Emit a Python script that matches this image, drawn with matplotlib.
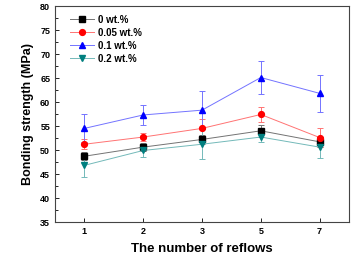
import matplotlib
matplotlib.use("Agg")
import matplotlib.pyplot as plt
from matplotlib.ticker import MultipleLocator
from matplotlib.lines import Line2D
from matplotlib.colors import to_rgb

plt.rcParams['font.family'] = ['Liberation Sans', 'DejaVu Sans']
plt.rcParams['font.weight'] = 'bold'

categories = ["1", "2", "3", "5", "7"]
labels = ["0 wt.%", "0.05 wt.%", "0.1 wt.%", "0.2 wt.%"]
s0 = [48.7, 50.6, 52.2, 54.0, 51.7]
e0 = [0.8, 0.8, 1.0, 1.3, 1.0]
s005 = [51.2, 52.7, 54.5, 57.4, 52.6]
e005 = [1.0, 0.9, 2.0, 1.5, 2.0]
s01 = [54.5, 57.3, 58.3, 65.1, 61.8]
e01 = [2.9, 2.0, 4.0, 3.5, 3.8]
s02 = [46.8, 49.9, 51.2, 52.7, 50.6]
e02 = [2.4, 1.4, 3.1, 1.1, 2.2]

series = [s0, s005, s01, s02]
errs = [e0, e005, e01, e02]
colors = ["#000000", "#ff0000", "#0000ff", "#007f7f"]
markers = ["s", "o", "^", "v"]


def light(c, f=0.45):
    r, g, b = to_rgb(c)
    return (r + (1 - r) * f, g + (1 - g) * f, b + (1 - b) * f)


fig = plt.figure(figsize=(3.53, 2.56), dpi=100)
ax = fig.add_axes([55/353, 34/256, 294/353, 216/256])
x = list(range(len(categories)))
handles = []
for s, e, c, m, l in zip(series, errs, colors, markers, labels):
    lc = light(c)
    ax.errorbar(x, s, yerr=e, color=lc, marker=m, markersize=4.2,
                markerfacecolor=c, markeredgecolor=c, lw=0.7,
                elinewidth=0.7, capsize=2.5, capthick=0.7)
    handles.append(Line2D([], [], color=lc, lw=0.7, marker=m, markersize=4.2,
                          markerfacecolor=c, markeredgecolor=c, label=l))
ax.set_xlim(-0.5, 4.5)
ax.set_ylim(35, 80)
ax.set_xticks(x)
ax.set_xticklabels(categories)
ax.yaxis.set_major_locator(MultipleLocator(5))
ax.yaxis.set_minor_locator(MultipleLocator(2.5))
ax.tick_params(direction='in', labelsize=6.5, length=3, width=0.6)
ax.tick_params(which='minor', direction='in', length=2, width=0.6)
for sp in ax.spines.values():
    sp.set_linewidth(0.8)
    sp.set_color('#444444')
ax.set_xlabel("The number of reflows", fontsize=9.5, fontweight='bold', labelpad=5)
ax.set_ylabel("Bonding strength (MPa)", fontsize=9, fontweight='bold', labelpad=4)
ax.legend(handles=handles, loc='upper left', bbox_to_anchor=(0.037, 0.977),
          frameon=False, fontsize=7, handlelength=2.5, borderaxespad=0,
          borderpad=0.4, labelspacing=0.3, handletextpad=0.4)
fig.savefig("out.png", dpi=100)
